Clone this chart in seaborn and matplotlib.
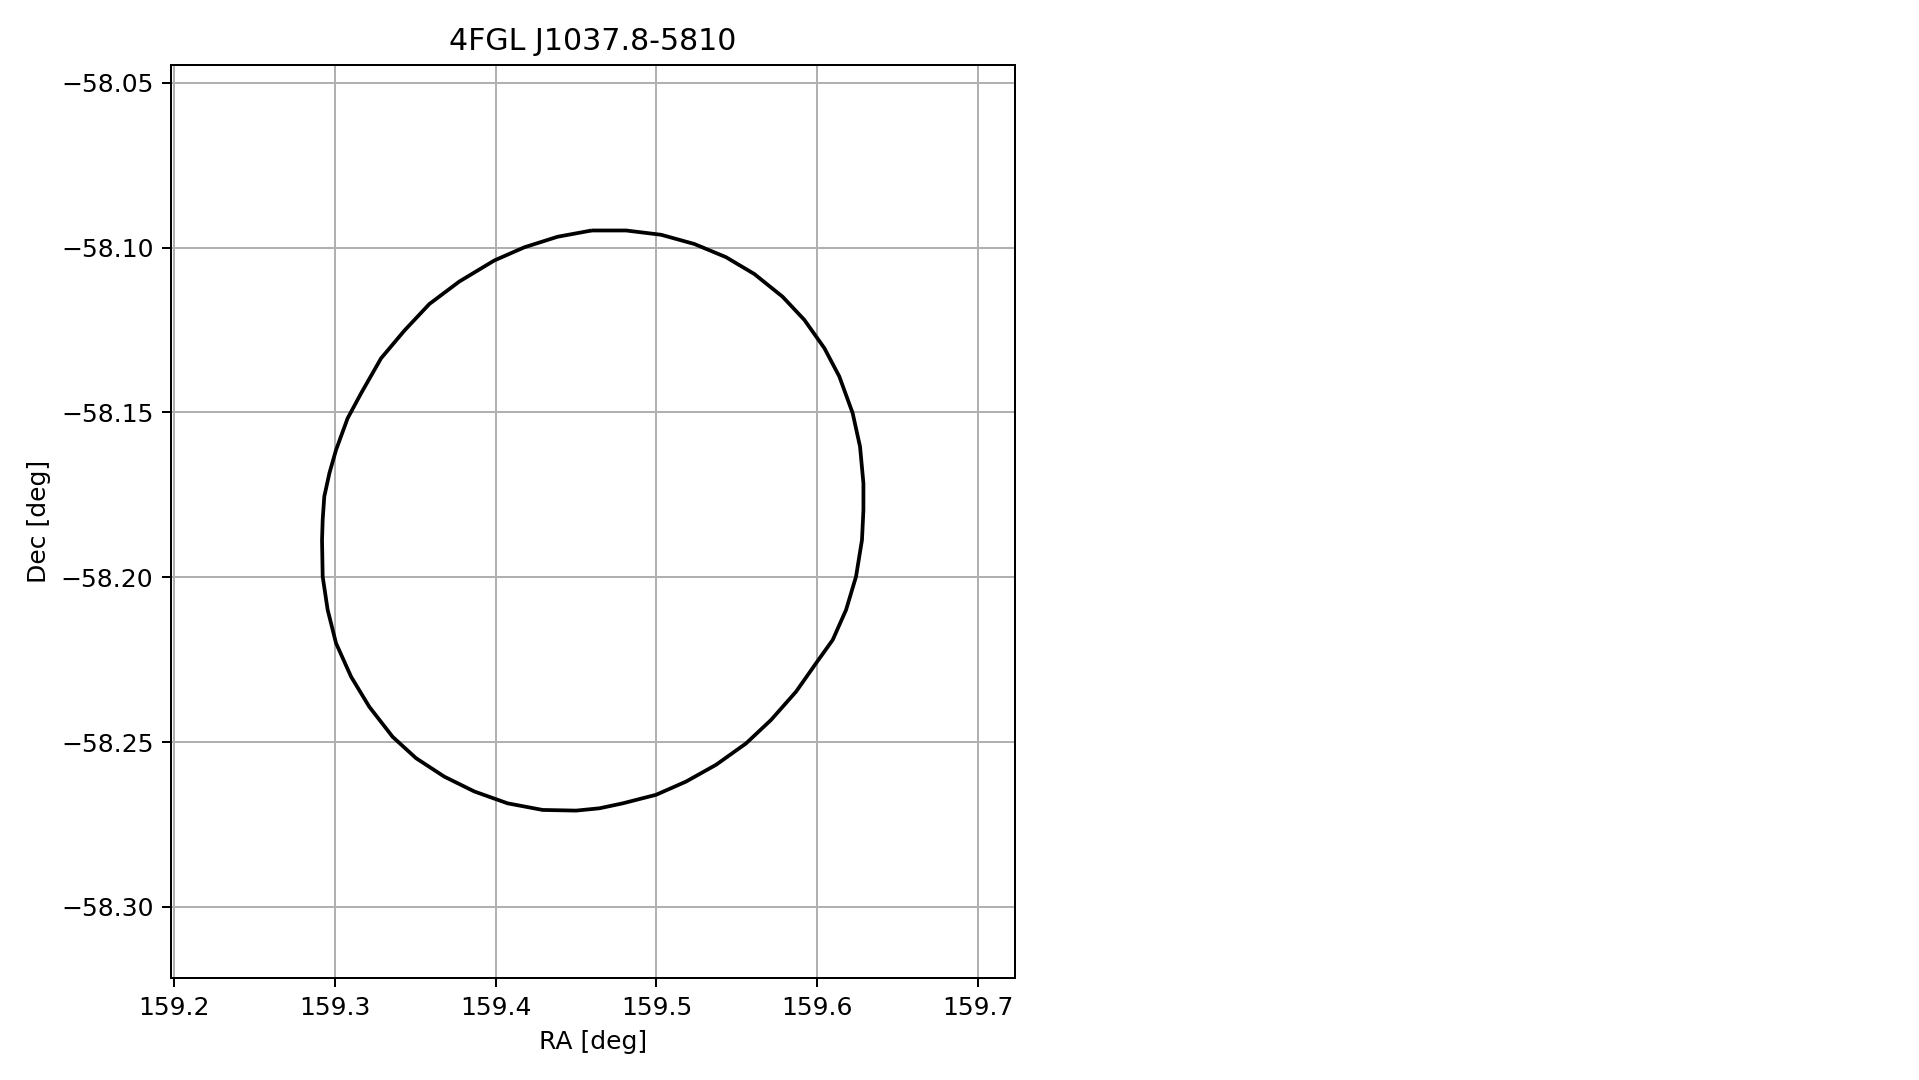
import matplotlib
matplotlib.use("Agg")
import matplotlib.pyplot as plt
import seaborn as sns
import pandas as pd

# error ellipse vertices (RA, Dec in degrees)
ra = [159.4597, 159.4385, 159.4178, 159.3991, 159.3773, 159.3587, 159.3431,
      159.3286, 159.3162, 159.3078, 159.3006, 159.2965, 159.2933, 159.2923,
      159.2919, 159.2923, 159.2954, 159.3006, 159.3100, 159.3213, 159.3358,
      159.3504, 159.3680, 159.3867, 159.4074, 159.4292, 159.4500, 159.4645,
      159.4790, 159.4998, 159.5184, 159.5371, 159.5558, 159.5713, 159.5869,
      159.5993, 159.6097, 159.6180, 159.6242, 159.6279, 159.6288, 159.6288,
      159.6267, 159.6221, 159.6138, 159.6045, 159.5920, 159.5785, 159.5609,
      159.5433, 159.5236, 159.5029, 159.4811]
dec = [-58.0948, -58.0967, -58.0999, -58.1039, -58.1103, -58.1171, -58.1252,
       -58.1336, -58.1442, -58.1518, -58.1614, -58.1684, -58.1755, -58.1826,
       -58.1887, -58.1998, -58.2099, -58.2200, -58.2302, -58.2393, -58.2484,
       -58.2549, -58.2605, -58.2650, -58.2686, -58.2706, -58.2708, -58.2701,
       -58.2686, -58.2660, -58.2620, -58.2569, -58.2504, -58.2433, -58.2347,
       -58.2261, -58.2190, -58.2099, -58.1998, -58.1887, -58.1796, -58.1715,
       -58.1604, -58.1502, -58.1391, -58.1305, -58.1219, -58.1149, -58.1080,
       -58.1029, -58.0989, -58.0961, -58.0948]

source_name = "4FGL J1037.8-5810"

# close the contour
df = pd.DataFrame({"ra": ra + ra[:1], "dec": dec + dec[:1]})

fig = plt.figure(figsize=(1919 / 180, 1080 / 180), dpi=180)
ax = fig.add_axes([0.0891, 0.0944, 0.4398, 0.8454])

sns.lineplot(data=df, x="ra", y="dec", sort=False, estimator=None,
             color="black", linewidth=1.5, solid_capstyle="butt", ax=ax)

ax.set_xlim(159.1979, 159.7231)
ax.set_ylim(-58.3216, -58.0446)
ax.set_xticks([159.2, 159.3, 159.4, 159.5, 159.6, 159.7])
ax.set_yticks([-58.05, -58.10, -58.15, -58.20, -58.25, -58.30])
ax.grid(True)
ax.set_axisbelow(True)

ax.set_title(source_name)
ax.set_xlabel("RA [deg]")
ax.set_ylabel("Dec [deg]")

fig.savefig("out.png", dpi=180)
